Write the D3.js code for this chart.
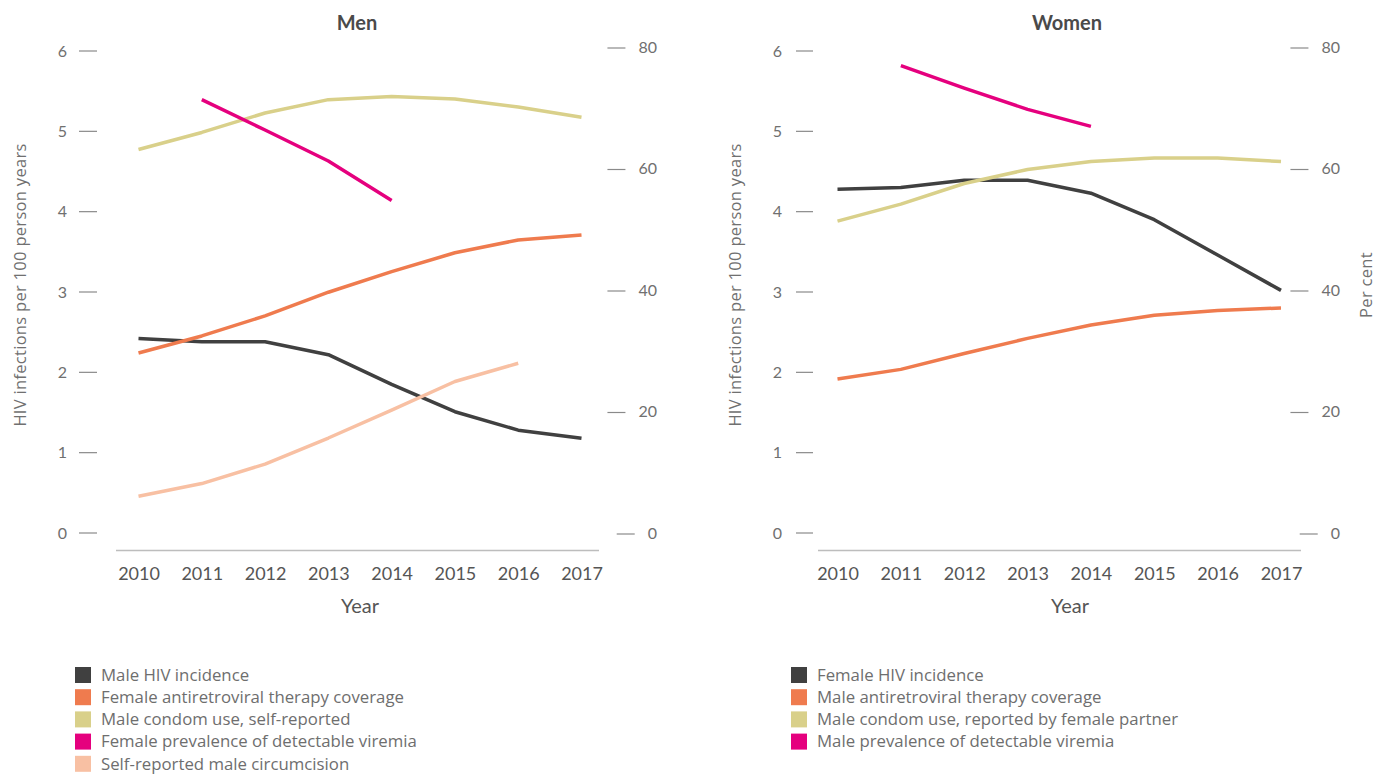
<!DOCTYPE html>
<html>
<head>
<meta charset="utf-8">
<script src="https://cdn.jsdelivr.net/npm/d3@7"></script>
<style>
  body { margin: 0; background: #fff; }
  svg { font-family: Lato, "Open Sans", sans-serif; }
</style>
</head>
<body>
<div id="chart"></div>
<script>
var years = [2010, 2011, 2012, 2013, 2014, 2015, 2016, 2017];
var leftTicks = [0, 1, 2, 3, 4, 5, 6];
var rightTicks = [0, 20, 40, 60, 80];

// Men panel
var menIncidence     = [2.42, 2.38, 2.38, 2.22, 1.85, 1.51, 1.28, 1.18];
var menFemaleArt     = [29.8, 32.6, 35.9, 39.8, 43.2, 46.3, 48.4, 49.2];
var menCondom        = [63.3, 66.1, 69.3, 71.5, 72.0, 71.6, 70.3, 68.6];
var menViremia       = [null, 71.5, 66.5, 61.4, 54.9, null, null, null];
var menCircumcision  = [6.2, 8.3, 11.5, 15.8, 20.4, 25.1, 28.1, null];

// Women panel
var womenIncidence   = [4.28, 4.30, 4.39, 4.39, 4.23, 3.90, 3.46, 3.02];
var womenMaleArt     = [25.5, 27.1, 29.7, 32.2, 34.4, 36.0, 36.8, 37.2];
var womenCondom      = [51.5, 54.3, 57.7, 60.0, 61.3, 61.9, 61.9, 61.3];
var womenViremia     = [null, 77.1, 73.4, 69.9, 67.1, null, null, null];

var colors = {
  incidence: "#404040",
  art: "#ef7b4e",
  condom: "#d9d08a",
  viremia: "#e5007e",
  circ: "#f8c0a3"
};

var width = 1384, height = 774;

var svg = d3.select("#chart").append("svg")
    .attr("width", width)
    .attr("height", height);

var panels = [
  {
    title: "Men", mid: 357,
    xRange: [138.5, 581.5],
    base: [116, 599],
    leftLabelX: 67, leftTick: [79, 97],
    rightLabelEnd: 657,
    yTitleX: 20, showPerCent: false,
    series: [
      {name: "Male HIV incidence", values: menIncidence, color: colors.incidence, axis: "left"},
      {name: "Female antiretroviral therapy coverage", values: menFemaleArt, color: colors.art, axis: "right"},
      {name: "Male condom use, self-reported", values: menCondom, color: colors.condom, axis: "right"},
      {name: "Female prevalence of detectable viremia", values: menViremia, color: colors.viremia, axis: "right"},
      {name: "Self-reported male circumcision", values: menCircumcision, color: colors.circ, axis: "right"}
    ],
    legendX: 75
  },
  {
    title: "Women", mid: 1067,
    xRange: [837.5, 1281],
    base: [818, 1301],
    leftLabelX: 782, leftTick: [796, 813],
    rightLabelEnd: 1340,
    yTitleX: 735, showPerCent: true,
    series: [
      {name: "Female HIV incidence", values: womenIncidence, color: colors.incidence, axis: "left"},
      {name: "Male antiretroviral therapy coverage", values: womenMaleArt, color: colors.art, axis: "right"},
      {name: "Male condom use, reported by female partner", values: womenCondom, color: colors.condom, axis: "right"},
      {name: "Male prevalence of detectable viremia", values: womenViremia, color: colors.viremia, axis: "right"}
    ],
    legendX: 791
  }
];

var yLeft = d3.scaleLinear().domain([0, 6]).range([533, 51]);
var yRight = d3.scaleLinear().domain([0, 80]).range([534, 48]);

panels.forEach(function(p) {
  var g = svg.append("g");
  var x = d3.scalePoint().domain(years).range(p.xRange);

  // title
  g.append("text")
    .attr("x", p.mid).attr("y", 30)
    .attr("text-anchor", "middle")
    .attr("font-size", 20).attr("font-weight", "bold")
    .attr("fill", "#4a4a4a")
    .text(p.title);

  // left axis
  leftTicks.forEach(function(t) {
    g.append("line")
      .attr("x1", p.leftTick[0]).attr("x2", p.leftTick[1])
      .attr("y1", yLeft(t)).attr("y2", yLeft(t))
      .attr("stroke", "#8a8a8a").attr("stroke-width", 1.2);
    g.append("text")
      .attr("x", p.leftLabelX).attr("y", yLeft(t))
      .attr("dy", "0.35em")
      .attr("text-anchor", "end")
      .attr("font-size", 16).attr("fill", "#707070")
      .text(t);
  });

  // right axis
  rightTicks.forEach(function(t) {
    var lbl = g.append("text")
      .attr("x", p.rightLabelEnd).attr("y", yRight(t))
      .attr("dy", "0.3em")
      .attr("text-anchor", "end")
      .attr("font-size", 16).attr("fill", "#707070")
      .text(t);
    var w = lbl.node().getComputedTextLength();
    var start = p.rightLabelEnd - w;
    g.append("line")
      .attr("x1", start - 31).attr("x2", start - 13)
      .attr("y1", yRight(t)).attr("y2", yRight(t))
      .attr("stroke", "#8a8a8a").attr("stroke-width", 1.2);
  });

  // x baseline + labels
  g.append("line")
    .attr("x1", p.base[0]).attr("x2", p.base[1])
    .attr("y1", 550.5).attr("y2", 550.5)
    .attr("stroke", "#bdbdbd").attr("stroke-width", 1.5);

  var xAxis = d3.axisBottom(x).tickSize(0).tickPadding(0);
  var xg = g.append("g").attr("transform", "translate(0,566)").call(xAxis);
  xg.select(".domain").remove();
  xg.selectAll("text")
    .attr("font-size", 18).attr("fill", "#555")
    .attr("font-family", "Lato, sans-serif")
    .attr("dy", "0.75em");

  g.append("text")
    .attr("x", p.mid + 3).attr("y", 613)
    .attr("text-anchor", "middle")
    .attr("font-size", 20).attr("fill", "#555")
    .text("Year");

  // y titles
  g.append("text")
    .attr("transform", "translate(" + p.yTitleX + ",285) rotate(-90)")
    .attr("dy", "0.35em")
    .attr("text-anchor", "middle")
    .attr("font-family", "'Open Sans', sans-serif")
    .attr("font-size", 16.5).attr("letter-spacing", 0.3).attr("fill", "#707070")
    .text("HIV infections per 100 person years");

  if (p.showPerCent) {
    g.append("text")
      .attr("transform", "translate(1366,285) rotate(-90)")
      .attr("dy", "0.35em")
      .attr("text-anchor", "middle")
      .attr("font-family", "'Open Sans', sans-serif")
      .attr("font-size", 16.5).attr("letter-spacing", 0.3).attr("fill", "#707070")
      .text("Per cent");
  }

  // lines
  p.series.forEach(function(s) {
    var y = s.axis === "left" ? yLeft : yRight;
    var pts = years.map(function(yr, i) { return {year: yr, v: s.values[i]}; })
      .filter(function(d) { return d.v != null; });
    var line = d3.line()
      .x(function(d) { return x(d.year); })
      .y(function(d) { return y(d.v); });
    g.append("path")
      .datum(pts)
      .attr("d", line)
      .attr("fill", "none")
      .attr("stroke", s.color)
      .attr("stroke-width", 3.5)
      .attr("stroke-linejoin", "round");
  });

  // legend
  var leg = g.append("g");
  p.series.forEach(function(s, i) {
    var cy = 675 + i * 22.2;
    leg.append("rect")
      .attr("x", p.legendX).attr("y", cy - 8)
      .attr("width", 16).attr("height", 16)
      .attr("fill", s.color);
    leg.append("text")
      .attr("x", p.legendX + 26).attr("y", cy)
      .attr("dy", "0.35em")
      .attr("font-family", "'Open Sans', sans-serif")
      .attr("font-size", 16.8).attr("fill", "#6e6e6e")
      .text(s.name);
  });
});
</script>
</body>
</html>
